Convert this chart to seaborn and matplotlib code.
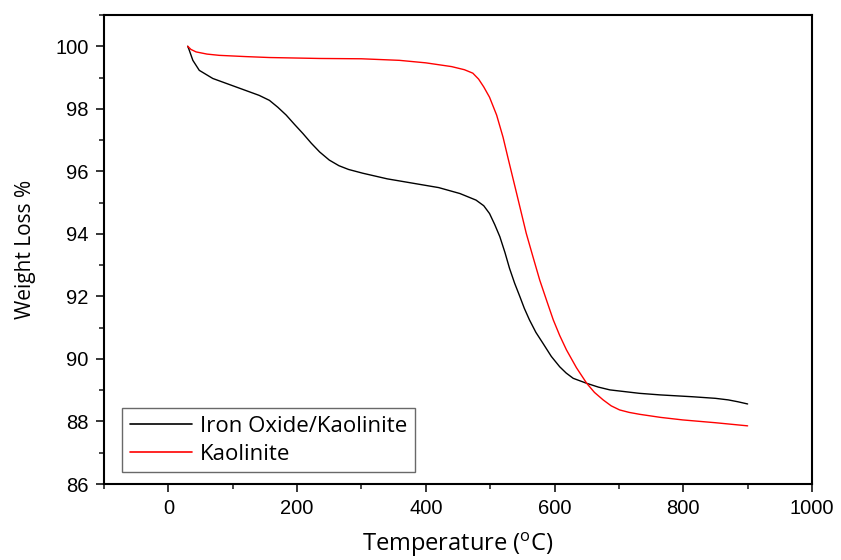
import pandas as pd
import numpy as np
import matplotlib.pyplot as plt
import seaborn as sns
from matplotlib.ticker import MultipleLocator

# =========================
# DATA
# =========================
temp_fe = [30, 32, 38, 48, 69, 105, 141, 157, 170, 183, 196, 209, 222, 235, 250,
           265, 280, 302, 340, 380, 420, 453, 478, 490, 499, 507, 515, 523, 530,
           538, 546, 553, 561, 571, 582, 595, 608, 618, 629, 650, 668, 686, 732,
           764, 815, 850, 870, 885, 900]
wt_fe = [100.0, 99.9, 99.55, 99.23, 98.97, 98.70, 98.43, 98.27, 98.05, 97.80,
         97.5, 97.21, 96.9, 96.62, 96.36, 96.18, 96.06, 95.94, 95.76, 95.62,
         95.48, 95.29, 95.08, 94.9, 94.65, 94.3, 93.91, 93.4, 92.9, 92.42,
         92.0, 91.62, 91.25, 90.85, 90.50, 90.08, 89.75, 89.55, 89.38, 89.22,
         89.10, 89.01, 88.90, 88.85, 88.79, 88.74, 88.69, 88.63, 88.56]

temp_k = [30, 35, 43, 60, 79, 120, 157, 235, 300, 359, 400, 440, 460, 473, 482,
          490, 499, 510, 520, 528, 541, 556, 566, 577, 588, 598, 608, 618.5, 634,
          650, 662, 675.5, 688, 701, 716, 732, 765, 799, 850, 900]
wt_k = [100.0, 99.9, 99.82, 99.75, 99.71, 99.67, 99.64, 99.61, 99.6, 99.55,
        99.47, 99.35, 99.25, 99.14, 98.95, 98.7, 98.37, 97.8, 97.09, 96.4,
        95.3, 94.02, 93.3, 92.52, 91.85, 91.25, 90.75, 90.29, 89.72, 89.22,
        88.93, 88.69, 88.5, 88.37, 88.29, 88.23, 88.13, 88.05, 87.96, 87.86]

labels = ["Iron Oxide/Kaolinite", "Kaolinite"]
colors = ["black", "red"]

df = pd.concat([
    pd.DataFrame({"T": temp_fe, "W": wt_fe, "muestra": labels[0]}),
    pd.DataFrame({"T": temp_k, "W": wt_k, "muestra": labels[1]}),
])

# =========================
# PLOT
# =========================
sns.set_style("ticks")
plt.rcParams["font.family"] = ["Liberation Sans", "DejaVu Sans"]
plt.rcParams["text.color"] = "black"

fig = plt.figure(figsize=(8.41, 5.6), dpi=100)
ax = fig.add_axes([0.1237, 0.1357, 0.8418, 0.8375])

sns.lineplot(data=df, x="T", y="W", hue="muestra", palette=colors,
             linewidth=1.0, sort=False, estimator=None, ax=ax)

ax.set_xlim(-100, 1000)
ax.set_ylim(86, 101)
ax.xaxis.set_major_locator(MultipleLocator(200))
ax.xaxis.set_minor_locator(MultipleLocator(100))
ax.yaxis.set_minor_locator(MultipleLocator(1))
ax.set_yticks(np.arange(86, 101, 2))
ax.tick_params(which="major", direction="out", length=6, width=1.3,
               labelsize=14.5, labelcolor="black", pad=5)
ax.tick_params(which="minor", direction="out", length=3.5, width=1.2)

for s in ax.spines.values():
    s.set_visible(True)
    s.set_linewidth(1.5)
    s.set_color("black")

ax.set_xlabel("Temperature ($\\mathregular{^oC}$)", family="Open Sans",
              fontsize=17, labelpad=9, color="black")
ax.set_ylabel("Weight Loss %", family="Open Sans", fontsize=15,
              labelpad=14, color="black")

leg = ax.legend(loc="lower left", bbox_to_anchor=(0.025, 0.025), borderaxespad=0,
                frameon=True, fancybox=False, edgecolor="#444444",
                prop={"family": "Open Sans", "size": 16}, handlelength=2.8,
                labelspacing=0.3, borderpad=0.35, handletextpad=0.35)
leg.get_frame().set_linewidth(1.0)
for h in leg.get_lines():
    h.set_linewidth(1.2)
for t in leg.get_texts():
    t.set_color("black")

fig.savefig("out.png", dpi=100)
